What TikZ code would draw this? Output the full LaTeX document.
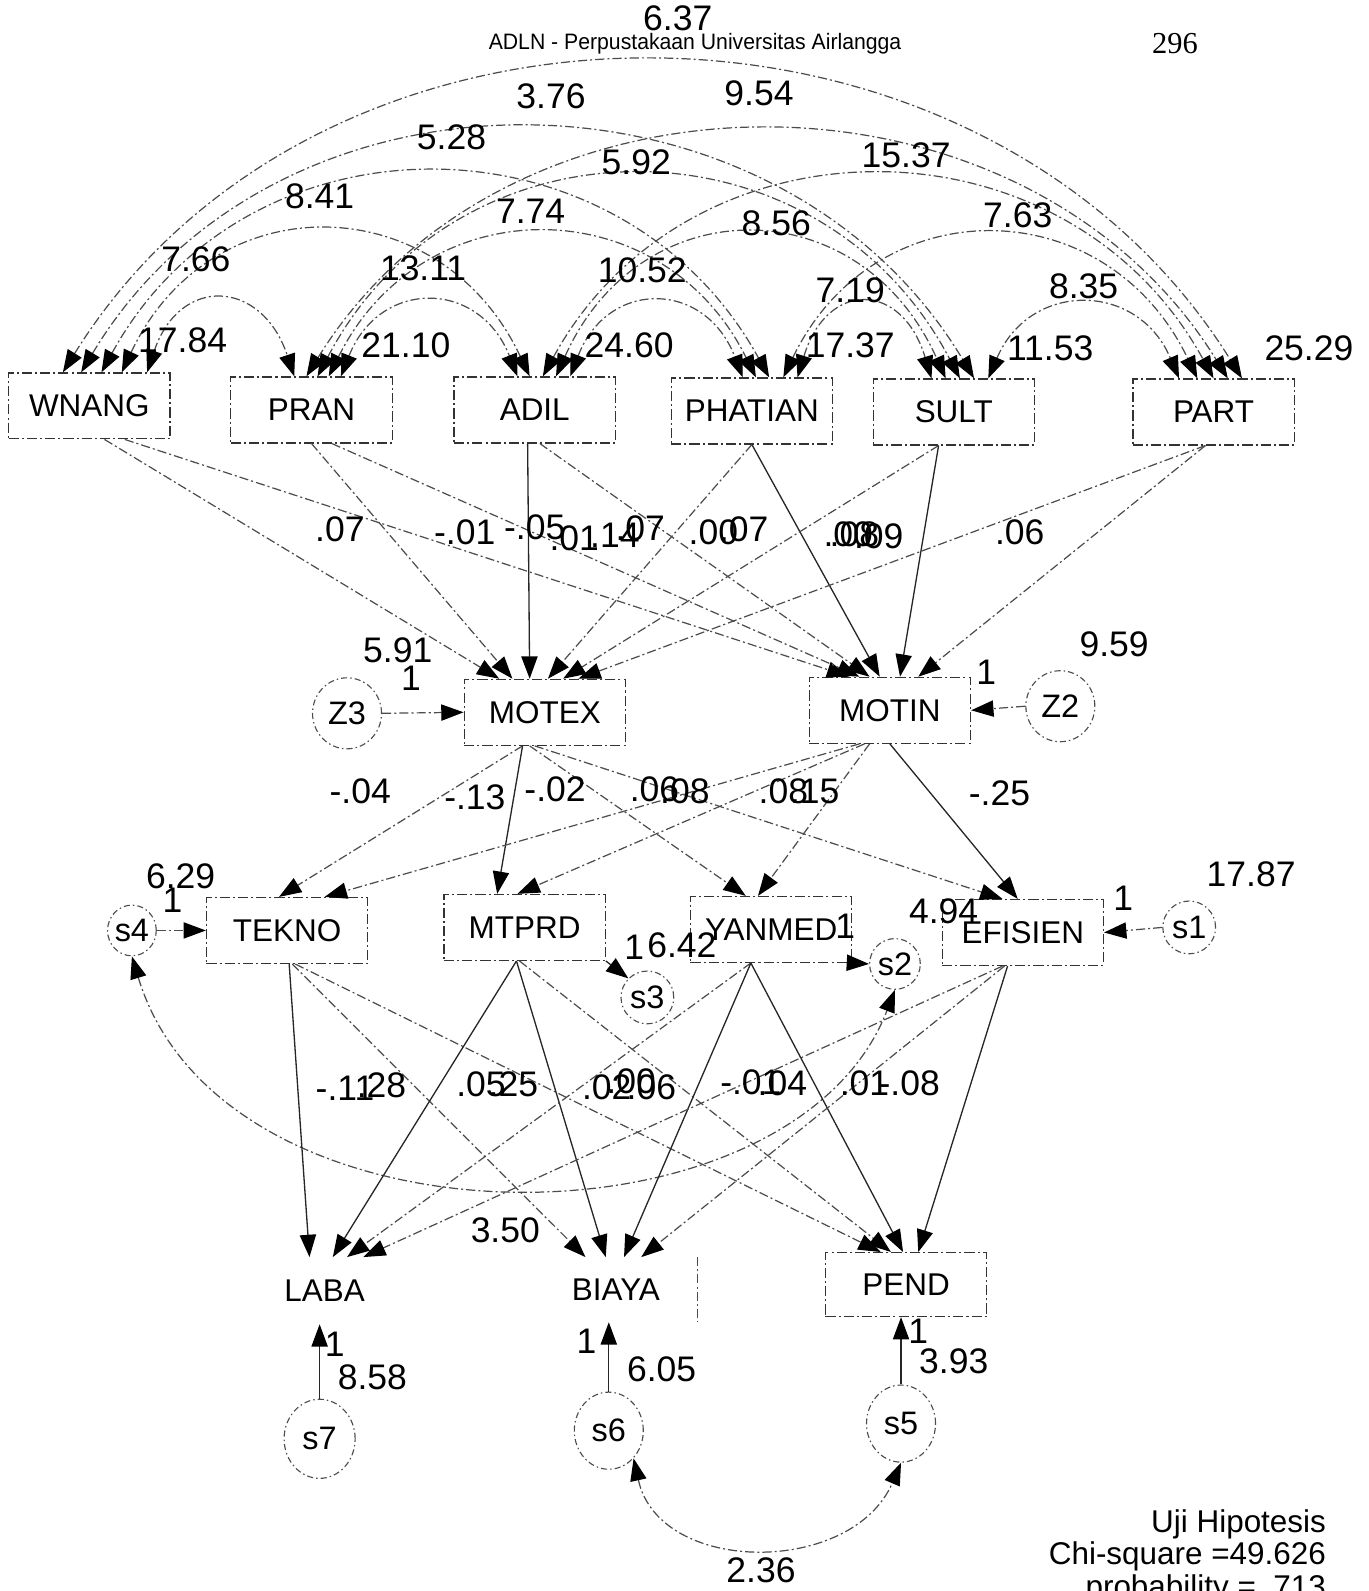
\documentclass[tikz,border=0pt]{standalone}
\usepackage{fontspec}
\setmainfont{Liberation Sans}
\newfontfamily\serifnum{Liberation Serif}
\usepackage{graphicx}
\usetikzlibrary{arrows.meta,shapes.geometric,calc}
\tikzset{
  ln/.style={line width=1.2pt, draw=black!70, dash pattern=on 9pt off 3pt on 2pt off 3pt},
  sl/.style={line width=1.3pt, draw=black!85},
  tip/.style={-{Triangle[length=22pt,width=16pt,black]}},
  dtip/.style={{Triangle[length=22pt,width=16pt,black]}-{Triangle[length=22pt,width=16pt,black]}},
  box/.style={draw=black!80, line width=1.2pt, dash pattern=on 10pt off 3pt on 2pt off 3pt,
    minimum width=159pt, minimum height=65pt, inner sep=0pt, font=\fontsize{31}{36}\selectfont},
  errc/.style={ellipse, draw=black!70, line width=1.1pt, dash pattern=on 6pt off 3pt on 1.5pt off 3pt,
    inner sep=0pt, font=\fontsize{32}{36}\selectfont},
  lab/.style={inner sep=0pt, font=\fontsize{35}{40}\selectfont},
  note/.style={inner sep=0pt, font=\fontsize{31}{36}\selectfont},
}
\newcommand\lbl[3]{\node[lab] (#1) at (#2) {#3};}
\newcommand\covarc[6]{\draw[ln,dtip] ([xshift=#2]#1.north) .. controls +(#5,-#6) and +(-#5,-#6) .. ([xshift=#4]#3.north);}
\begin{document}
\begin{tikzpicture}[x=1pt,y=-1pt]
\useasboundingbox (0,0) rectangle (1349,1568);
\clip (0,0) rectangle (1349,1568);

% header
\node[inner sep=0pt] (hdr) at (685,43) {\scalebox{0.95}[1]{\fontsize{22}{26}\selectfont ADLN - Perpustakaan Universitas Airlangga}};
\node[inner sep=0pt] (pg) at (1158,43) {\serifnum\fontsize{30}{34}\selectfont 296};

% exogenous boxes
\node[box] (WNANG) at (88,400) {WNANG};
\node[box] (PRAN) at (307,404) {PRAN};
\node[box] (ADIL) at (527,404) {ADIL};
\node[box] (PHATIAN) at (741,405) {PHATIAN};
\node[box] (SULT) at (940,406) {SULT};
\node[box] (PART) at (1196,406) {PART};

% mediators
\node[box] (MOTEX) at (537,702) {MOTEX};
\node[box] (MOTIN) at (877,700) {MOTIN};
\node[errc, minimum width=68pt, minimum height=70pt] (Z3) at (342,703) {Z3};
\node[errc, minimum width=68pt, minimum height=70pt] (Z2) at (1045,696) {Z2};

% third row
\node[box] (TEKNO) at (283,917) {TEKNO};
\node[box] (MTPRD) at (517,914) {MTPRD};
\node[box] (YANMED) at (760,916) {YANMED};
\node[box] (EFISIEN) at (1008,919) {EFISIEN};
\node[errc, minimum width=48pt, minimum height=50pt] (s4) at (130,917) {s4};
\node[errc, minimum width=52pt, minimum height=52pt] (s3) at (638,983) {s3};
\node[errc, minimum width=50pt, minimum height=50pt] (s2) at (882,950) {s2};
\node[errc, minimum width=52pt, minimum height=52pt] (s1) at (1172,914) {s1};

% bottom row
\node[box, draw=none] (LABA) at (320,1272) {LABA};
\node[box, draw=none, minimum height=63pt] (BIAYA) at (607,1271) {BIAYA};
\draw[ln] (BIAYA.north east) -- (BIAYA.south east);
\node[box, minimum height=63pt] (PEND) at (893,1266) {PEND};
\node[errc, minimum width=70pt, minimum height=78pt] (s7) at (315,1418) {s7};
\node[errc, minimum width=68pt, minimum height=76pt] (s6) at (600,1410) {s6};
\node[errc, minimum width=68pt, minimum height=76pt] (s5) at (888,1403) {s5};

% covariance arcs among exogenous variables
\covarc{WNANG}{57}{PRAN}{-17}{32}{96}
\covarc{PRAN}{29}{ADIL}{-17}{38}{96}
\covarc{ADIL}{35}{PHATIAN}{-9}{37}{96}
\covarc{PHATIAN}{45}{SULT}{-22}{29}{96}
\covarc{SULT}{34}{PART}{-34}{41}{96}
\covarc{WNANG}{32}{ADIL}{-5}{88}{187}
\covarc{PRAN}{17}{PHATIAN}{4}{93}{187}
\covarc{ADIL}{21}{SULT}{-8}{84}{187}
\covarc{PHATIAN}{31}{PART}{-16}{90}{187}
\covarc{WNANG}{12}{PHATIAN}{17}{145}{264}
\covarc{PRAN}{6}{SULT}{6}{139}{264}
\covarc{ADIL}{8}{PART}{0}{145}{264}
\covarc{WNANG}{-8}{SULT}{20}{194}{323}
\covarc{PRAN}{-5}{PART}{14}{200}{323}
\covarc{WNANG}{-26}{PART}{28}{256}{411}

% exogenous -> MOTEX / MOTIN
\draw[ln,tip] ([xshift=15]WNANG.south) -- ([xshift=-45]MOTEX.north);
\draw[ln,tip] ([xshift=35]WNANG.south) -- ([xshift=-40]MOTIN.north);
\draw[ln,tip] (PRAN.south) -- ([xshift=-32]MOTEX.north);
\draw[ln,tip] ([xshift=20]PRAN.south) -- ([xshift=-30]MOTIN.north);
\draw[sl,tip] ([xshift=-7]ADIL.south) -- ([xshift=-15]MOTEX.north);
\draw[ln,tip] ([xshift=5]ADIL.south) -- ([xshift=-20]MOTIN.north);
\draw[ln,tip] (PHATIAN.south) -- ([xshift=3]MOTEX.north);
\draw[sl,tip] (PHATIAN.south) -- ([xshift=-10]MOTIN.north);
\draw[ln,tip] ([xshift=-15]SULT.south) -- ([xshift=18]MOTEX.north);
\draw[sl,tip] ([xshift=-15]SULT.south) -- ([xshift=10]MOTIN.north);
\draw[ln,tip] ([xshift=-8]PART.south) -- ([xshift=33]MOTEX.north);
\draw[ln,tip] ([xshift=-8]PART.south) -- ([xshift=28]MOTIN.north);

% disturbances of mediators
\draw[ln,tip] (Z3.east) -- (MOTEX.west);
\draw[ln,tip] (Z2.west) -- (MOTIN.east);

% MOTEX / MOTIN -> third row
\draw[ln,tip] ([xshift=-22]MOTEX.south) -- ([xshift=-8]TEKNO.north);
\draw[sl,tip] ([xshift=-22]MOTEX.south) -- ([xshift=-27]MTPRD.north);
\draw[ln,tip] ([xshift=-15]MOTEX.south) -- ([xshift=-25]YANMED.north);
\draw[ln,tip] ([xshift=-10]MOTEX.south) -- ([xshift=-20]EFISIEN.north);
\draw[ln,tip] ([xshift=-30]MOTIN.south) -- ([xshift=37]TEKNO.north);
\draw[ln,tip] ([xshift=-25]MOTIN.south) -- ([xshift=-7]MTPRD.north);
\draw[ln,tip] ([xshift=-20]MOTIN.south) -- ([xshift=-13]YANMED.north);
\draw[sl,tip] (MOTIN.south) -- ([xshift=-5]EFISIEN.north);

% errors of third row
\draw[ln,tip] (s4.east) -- (TEKNO.west);
\draw[sl,tip] (MTPRD.south east) -- (s3.north west);
\draw[sl,tip] (YANMED.south east) -- (s2.west);
\draw[ln,tip] (s1.west) -- (EFISIEN.east);
\draw[ln,dtip] (s4.south) .. controls (220,1240) and (780,1240) .. (s2.south);

% third row -> bottom
\draw[sl,tip] ([xshift=2]TEKNO.south) -- ([xshift=-15]LABA.north);
\draw[ln,tip] ([xshift=5]TEKNO.south) -- ([xshift=-30]BIAYA.north);
\draw[ln,tip] ([xshift=8]TEKNO.south) -- ([xshift=-25]PEND.north);
\draw[sl,tip] ([xshift=-8]MTPRD.south) -- ([xshift=8]LABA.north);
\draw[sl,tip] ([xshift=-8]MTPRD.south) -- ([xshift=-10]BIAYA.north);
\draw[ln,tip] ([xshift=-5]MTPRD.south) -- ([xshift=-15]PEND.north);
\draw[ln,tip] ([xshift=-20]YANMED.south) -- ([xshift=22]LABA.north);
\draw[sl,tip] ([xshift=-20]YANMED.south) -- ([xshift=8]BIAYA.north);
\draw[sl,tip] ([xshift=-20]YANMED.south) -- ([xshift=-3]PEND.north);
\draw[ln,tip] ([xshift=-20]EFISIEN.south) -- ([xshift=38]LABA.north);
\draw[ln,tip] ([xshift=-18]EFISIEN.south) -- ([xshift=25]BIAYA.north);
\draw[sl,tip] ([xshift=-15]EFISIEN.south) -- ([xshift=12]PEND.north);

% errors of bottom row
\draw[sl,tip] (s7.north) -- (s7.north |- LABA.south);
\draw[sl,tip] (s6.north) -- (s6.north |- BIAYA.south);
\draw[sl,tip] (s5.north) -- (s5.north |- PEND.south);
\draw[ln,dtip] (s6.south east) .. controls (650,1553) and (840,1553) .. (s5.south);

% labels: covariances and variances
\lbl{c1}{668,18}{6.37}
\lbl{c2}{543,95}{3.76}
\lbl{c3}{748,92}{9.54}
\lbl{c4}{445,135}{5.28}
\lbl{c5}{627,160}{5.92}
\lbl{c6}{893,153}{15.37}
\lbl{c7}{315,193}{8.41}
\lbl{c8}{523,208}{7.74}
\lbl{c9}{765,220}{8.56}
\lbl{c10}{1003,212}{7.63}
\lbl{c11}{193,256}{7.66}
\lbl{c12}{417,264}{13.11}
\lbl{c13}{633,266}{10.52}
\lbl{c14}{838,286}{7.19}
\lbl{c15}{1068,282}{8.35}
\lbl{v1}{180,335}{17.84}
\lbl{v2}{400,340}{21.10}
\lbl{v3}{620,340}{24.60}
\lbl{v4}{838,340}{17.37}
\lbl{v5}{1035,343}{11.53}
\lbl{v6}{1290,343}{25.29}

% path labels exogenous -> mediators
\lbl{p1}{335,522}{.07}
\lbl{p2}{458,525}{-.01}
\lbl{p3}{527,520}{-.05}
\lbl{p4}{566,530}{.01}
\lbl{p5}{606,528}{.14}
\lbl{p6}{631,521}{.07}
\lbl{p7}{703,525}{.00}
\lbl{p8}{733,522}{.07}
\lbl{p9}{836,527}{.00}
\lbl{p10}{842,527}{.08}
\lbl{p11}{866,529}{.09}
\lbl{p12}{1005,525}{.06}

% mediator labels
\lbl{e1}{392,641}{5.91}
\lbl{e2}{405,668}{1}
\lbl{e3}{1098,635}{9.59}
\lbl{e4}{972,663}{1}

% mediators -> third row labels
\lbl{m1}{355,780}{-.04}
\lbl{m2}{468,786}{-.13}
\lbl{m3}{547,778}{-.02}
\lbl{m4}{645,778}{.06}
\lbl{m5}{675,780}{.08}
\lbl{m6}{772,780}{.08}
\lbl{m7}{803,780}{.15}
\lbl{m8}{985,782}{-.25}

% third row error labels
\lbl{f1}{178,864}{6.29}
\lbl{f2}{170,887}{1}
\lbl{f3}{625,934}{1}
\lbl{f4}{672,932}{6.42}
\lbl{f5}{833,913}{1}
\lbl{f6}{930,898}{4.94}
\lbl{f7}{1107,885}{1}
\lbl{f8}{1233,862}{17.87}

% third row -> bottom labels
\lbl{b1}{340,1073}{-.11}
\lbl{b2}{376,1070}{.28}
\lbl{b3}{474,1069}{.05}
\lbl{b4}{506,1069}{.25}
\lbl{b5}{598,1072}{.02}
\lbl{b6}{622,1066}{.00}
\lbl{b7}{642,1072}{.06}
\lbl{b8}{740,1067}{-.01}
\lbl{b9}{771,1068}{.04}
\lbl{b10}{852,1068}{.01}
\lbl{b11}{896,1068}{-.08}
\lbl{b12}{498,1212}{3.50}

% bottom error labels
\lbl{g1}{330,1325}{1}
\lbl{g2}{367,1357}{8.58}
\lbl{g3}{578,1322}{1}
\lbl{g4}{652,1349}{6.05}
\lbl{g5}{905,1312}{1}
\lbl{g6}{940,1342}{3.93}
\lbl{g7}{750,1548}{2.36}

% fit note
\node[note, anchor=east] (u1) at (1307,1502) {Uji Hipotesis};
\node[note, anchor=east] (u2) at (1307,1534) {Chi-square =49.626};
\node[note, anchor=east] (u3) at (1307,1566) {probability = .713};
\end{tikzpicture}
\end{document}
